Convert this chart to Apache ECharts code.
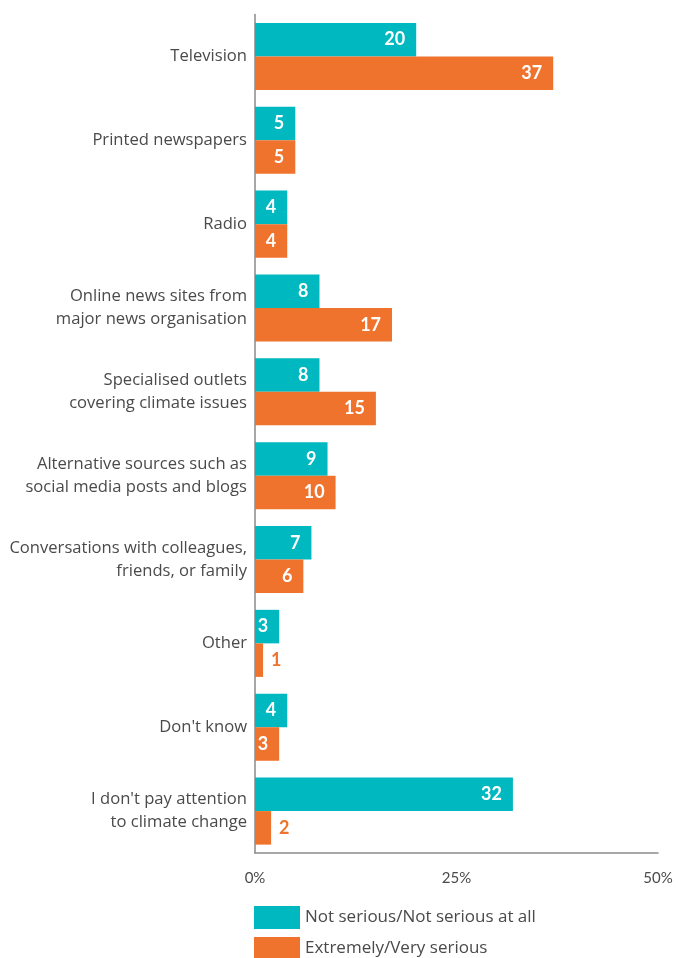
<!DOCTYPE html>
<html><head><meta charset="utf-8">
<script src="https://cdn.jsdelivr.net/npm/echarts@6/dist/echarts.min.js"></script>
<style>html,body{margin:0;padding:0;background:#fff}#c{width:678px;height:958px}</style>
</head><body><div id="c"></div>
<script>
var categories = ["Television","Printed newspapers","Radio","Online news sites from\nmajor news organisation","Specialised outlets\ncovering climate issues","Alternative sources such as\nsocial media posts and blogs","Conversations with colleagues,\nfriends, or family","Other","Don't know","I don't pay attention\nto climate change"];
var notSerious = [20,5,4,8,8,9,7,3,4,32];
var verySerious = [37,5,4,17,15,10,6,1,3,2];
var seriesNames = ["Not serious/Not serious at all","Extremely/Very serious"];
var tickLabels = ["0%","25%","50%"];

var TEAL = "#00B8C0", ORANGE = "#F0732D", TXT = "#4a4a4a";
function mk(vals, color){
  return vals.map(function(v){
    var small = v < 3;
    return {value: v, label: {
      show: true,
      position: small ? "right" : "insideRight",
      distance: small ? 8 : 11,
      color: small ? color : "#fff",
      fontWeight: "bold", fontSize: 18, fontFamily: "Lato"
    }};
  });
}
var legendBase = {orient: "horizontal", left: 254, itemWidth: 46, itemHeight: 23, padding: 0,
    icon: "rect", textStyle: {color: TXT, fontSize: 17, fontFamily: "Open Sans"}};
var chart = echarts.init(document.getElementById("c"));
chart.setOption({
  animation: false,
  grid: {left: 255, right: 20, top: 14.5, bottom: 105, containLabel: false},
  xAxis: {type: "value", min: 0, max: 50, interval: 25,
    axisLine: {show: true, lineStyle: {color: "#8a8a8a", width: 1.5}},
    axisTick: {show: false}, splitLine: {show: false},
    axisLabel: {color: TXT, fontSize: 15, fontFamily: "Lato", margin: 18,
      formatter: function(v){ return tickLabels[v/25]; }}
  },
  yAxis: {type: "category", data: categories, inverse: true,
    axisLine: {show: true, lineStyle: {color: "#8a8a8a", width: 1.5}},
    axisTick: {show: false},
    axisLabel: {color: TXT, fontSize: 16.6, fontFamily: "Open Sans", margin: 8, lineHeight: 23, align: "right"}
  },
  legend: [
    Object.assign({}, legendBase, {top: 906, data: [seriesNames[0]]}),
    Object.assign({}, legendBase, {top: 937, data: [seriesNames[1]]})
  ],
  series: [
    {name: seriesNames[0], type: "bar", data: mk(notSerious, TEAL), itemStyle: {color: TEAL},
     barGap: "0%", barCategoryGap: "20%"},
    {name: seriesNames[1], type: "bar", data: mk(verySerious, ORANGE), itemStyle: {color: ORANGE},
     barGap: "0%", barCategoryGap: "20%"}
  ]
});
</script></body></html>
